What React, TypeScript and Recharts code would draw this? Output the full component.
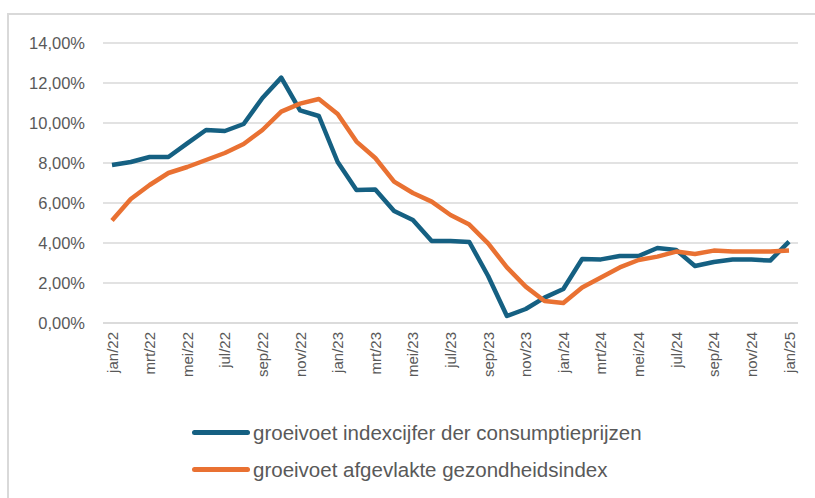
import React from 'react';
import { LineChart, Line, XAxis, YAxis, CartesianGrid, Legend } from 'recharts';

const months = [
  'jan/22', 'feb/22', 'mrt/22', 'apr/22', 'mei/22', 'jun/22', 'jul/22', 'aug/22', 'sep/22', 'okt/22', 'nov/22', 'dec/22',
  'jan/23', 'feb/23', 'mrt/23', 'apr/23', 'mei/23', 'jun/23', 'jul/23', 'aug/23', 'sep/23', 'okt/23', 'nov/23', 'dec/23',
  'jan/24', 'feb/24', 'mrt/24', 'apr/24', 'mei/24', 'jun/24', 'jul/24', 'aug/24', 'sep/24', 'okt/24', 'nov/24', 'dec/24',
  'jan/25',
];

const cpi = [
  7.9, 8.05, 8.3, 8.3, 8.98, 9.65, 9.6, 9.95, 11.25, 12.27, 10.63, 10.35,
  8.05, 6.65, 6.67, 5.6, 5.15, 4.1, 4.1, 4.05, 2.35, 0.35, 0.7, 1.27,
  1.7, 3.2, 3.18, 3.35, 3.35, 3.75, 3.65, 2.85, 3.05, 3.17, 3.17, 3.12,
  4.07,
];

const gezondheid = [
  5.12, 6.2, 6.9, 7.5, 7.8, 8.15, 8.5, 8.95, 9.65, 10.57, 10.97, 11.2,
  10.45, 9.07, 8.25, 7.07, 6.5, 6.07, 5.4, 4.92, 3.98, 2.78, 1.82, 1.1,
  1.0, 1.78, 2.28, 2.78, 3.15, 3.32, 3.57, 3.45, 3.62, 3.57, 3.57, 3.57,
  3.62,
];

const yTicks = [0, 2, 4, 6, 8, 10, 12, 14];

const seriesNames = [
  'groeivoet indexcijfer der consumptieprijzen',
  'groeivoet afgevlakte gezondheidsindex',
];
const colors = ['#156082', '#E97132'];

const data = months.map((m, i) => ({ month: m, cpi: cpi[i], gez: gezondheid[i] }));

const fmtPct = (v: number) => v.toFixed(2).replace('.', ',') + '%';

const FONT = '"Liberation Sans", Arial, sans-serif';
const TEXT = '#595959';

const XTick = (props: any) => {
  const { x, y, payload } = props;
  return (
    <text
      x={x}
      y={y}
      transform={`rotate(-90, ${x}, ${y})`}
      textAnchor="end"
      dominantBaseline="central"
      fill={TEXT}
      fontSize={15}
      fontFamily={FONT}
    >
      {payload.value}
    </text>
  );
};

const LegendContent = () => (
  <div style={{ fontFamily: FONT, color: TEXT, fontSize: 20.5 }}>
    {seriesNames.map((n, i) => (
      <div key={n} style={{ display: 'flex', alignItems: 'center', height: 37, lineHeight: '37px' }}>
        <div style={{ width: 58, height: 5, borderRadius: 3, background: colors[i], marginRight: 3 }} />
        <span>{n}</span>
      </div>
    ))}
  </div>
);

export default function App() {
  return (
    <div style={{ position: 'absolute', left: 0, top: 0, width: 815, height: 498, background: '#fff', overflow: 'hidden' }}>
      <div
        style={{
          position: 'absolute',
          left: 7,
          top: 13,
          width: 820,
          height: 500,
          borderLeft: '2px solid #d9d9d9',
          borderTop: '2px solid #d9d9d9',
        }}
      />
      <LineChart
        width={815}
        height={498}
        data={data}
        margin={{ top: 43, right: 17, left: 0, bottom: 95 }}
        style={{ position: 'absolute', left: 0, top: 0 }}
      >
        <CartesianGrid vertical={false} stroke="#d9d9d9" strokeWidth={1.5} />
        <XAxis
          dataKey="month"
          interval={1}
          tickLine={false}
          axisLine={{ stroke: '#d9d9d9', strokeWidth: 1.5 }}
          tick={<XTick />}
          tickSize={6}
          tickMargin={3}
          height={80}
          padding={{ left: 9, right: 9 }}
        />
        <YAxis
          domain={[0, 14]}
          ticks={yTicks}
          tickFormatter={fmtPct}
          axisLine={false}
          tickLine={false}
          width={103}
          tickSize={6}
          tickMargin={12}
          tick={{ fill: TEXT, fontSize: 16.5, fontFamily: FONT }}
        />
        <Line
          dataKey="cpi"
          name={seriesNames[0]}
          stroke={colors[0]}
          strokeWidth={4.5}
          dot={false}
          strokeLinejoin="round"
          isAnimationActive={false}
        />
        <Line
          dataKey="gez"
          name={seriesNames[1]}
          stroke={colors[1]}
          strokeWidth={4.5}
          dot={false}
          strokeLinejoin="round"
          isAnimationActive={false}
        />
        <Legend
          layout="horizontal"
          verticalAlign="middle"
          align="center"
          content={<LegendContent />}
          wrapperStyle={{ left: 192, top: 414, width: 600, height: 80 }}
        />
      </LineChart>
    </div>
  );
}
